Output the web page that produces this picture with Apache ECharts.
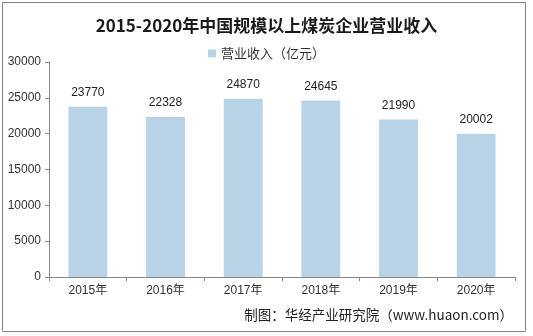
<!DOCTYPE html>
<html>
<head>
<meta charset="utf-8">
<script src="https://cdn.jsdelivr.net/npm/echarts@6/dist/echarts.min.js"></script>
<style>
html,body{margin:0;padding:0;background:#fff;}
#chart{width:533px;height:336px;}
</style>
</head>
<body>
<div id="chart"></div>
<script>
// Revenue of large coal enterprises in China, 2015-2020 (100 million yuan)
const categories = ['2015年', '2016年', '2017年', '2018年', '2019年', '2020年'];
const revenue = [23770, 22328, 24870, 24645, 21990, 20002];
const yTicks = [0, 5000, 10000, 15000, 20000, 25000, 30000];

const chart = echarts.init(document.getElementById('chart'), null, { renderer: 'canvas' });
const font = '"Liberation Sans", Arial, "Noto Sans CJK SC", sans-serif';

chart.setOption({
  animation: false,
  backgroundColor: '#fff',
  title: {
    text: '2015-2020年中国规模以上煤炭企业营业收入',
    left: 'center',
    top: 12,
    textStyle: { fontFamily: '"Noto Sans CJK SC", serif', fontSize: 17, fontWeight: 'bold', color: '#1a1a1a' }
  },
  legend: {
    top: 42,
    left: 'center',
    itemWidth: 8,
    itemHeight: 8,
    itemGap: 4,
    icon: 'rect',
    textStyle: { fontFamily: '"Noto Sans CJK SC", sans-serif', fontSize: 13, color: '#333' },
    data: ['营业收入（亿元）']
  },
  grid: { left: 49, right: 18, top: 62, bottom: 59 },
  xAxis: {
    type: 'category',
    data: categories,
    axisLine: { lineStyle: { color: '#888' } },
    axisTick: { show: true, alignWithLabel: false, length: 4, lineStyle: { color: '#888' } },
    axisLabel: { fontFamily: font, fontSize: 12, color: '#333', margin: 8 }
  },
  yAxis: {
    type: 'value',
    min: yTicks[0],
    max: yTicks[yTicks.length - 1],
    interval: 5000,
    axisLine: { show: true, lineStyle: { color: '#888' } },
    axisTick: { show: true, length: 4, lineStyle: { color: '#888' } },
    splitLine: { show: false },
    axisLabel: {
      fontFamily: font, fontSize: 12, color: '#333', margin: 8,
      formatter: v => String(v)
    }
  },
  series: [{
    name: '营业收入（亿元）',
    type: 'bar',
    data: revenue,
    barWidth: '50%',
    itemStyle: { color: '#B7D3E5' },
    label: {
      show: true,
      position: 'top',
      distance: 8,
      fontFamily: font,
      fontSize: 12,
      color: '#222'
    }
  }],
  graphic: [
    {
      type: 'rect',
      shape: { x: 2.5, y: 2.5, width: 523, height: 329 },
      style: { fill: 'none', stroke: '#888', lineWidth: 1 },
      silent: true
    },
    {
      type: 'text',
      right: 20,
      top: 308,
      style: {
        text: '制图：华经产业研究院（www.huaon.com）',
        font: '13.5px "Noto Sans CJK SC", sans-serif',
        fill: '#222'
      }
    }
  ]
});
</script>
</body>
</html>
